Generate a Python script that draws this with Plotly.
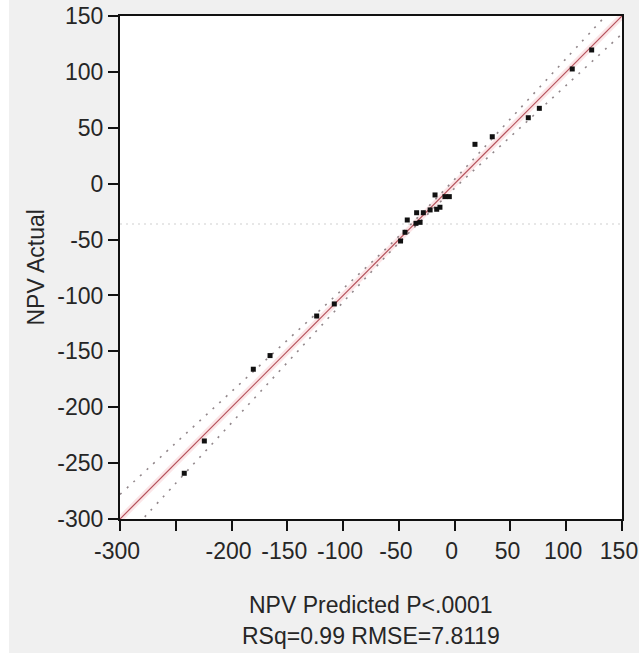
import plotly.graph_objects as go

# Data
npv_predicted = [122.8, 105.4, 75.9, 66.0, 33.7, 18.2, -17.6, -8.7, -4.8, -13.2, -16.1,
                 -22.0, -34.1, -28.1, -42.5, -34.7, -31.0, -44.5, -48.5, -107.9,
                 -123.7, -165.5, -180.5, -224.4, -242.4]
npv_actual = [119.6, 102.6, 67.4, 59.0, 42.0, 35.2, -10.1, -11.6, -11.6, -21.1, -22.9,
              -23.5, -26.0, -26.0, -32.5, -35.5, -34.6, -43.5, -51.3, -107.6,
              -118.4, -153.8, -166.0, -230.2, -259.1]

fit_x = [-300, 150]
fit_y = [-300, 150]

curve_x = [-300, -250, -200, -150, -100, -50, 0, 50, 100, 150]
curve_upper = [-278, -232, -186, -140, -94, -47, 4, 58, 112, 166]
curve_lower = [-322, -268, -214, -160, -106, -53, -4, 42, 88, 134]

mean_x = [-300, 150]
mean_y = [-36, -36]

x_tick_vals = [-300, -250, -200, -150, -100, -50, 0, 50, 100, 150]
x_tick_text = ["-300", "", "-200", "-150", "-100", "-50", "0", "50", "100", "150"]
y_tick_vals = [-300, -250, -200, -150, -100, -50, 0, 50, 100, 150]
y_tick_text = ["-300", "-250", "-200", "-150", "-100", "-50", "0", "50", "100", "150"]

x_title = "NPV Predicted P<.0001"
x_subtitle = "RSq=0.99 RMSE=7.8119"
y_title = "NPV Actual"

FONT = "Liberation Sans, Arial, sans-serif"
TXT = "#262626"
FS = 23

fig = go.Figure()

# mean line (faint dotted)
fig.add_trace(go.Scatter(x=mean_x, y=mean_y, mode="lines",
                         line=dict(color="rgba(225,225,225,0.8)", width=2, dash="2px,4px"),
                         hoverinfo="skip", showlegend=False))
# pink glow around fit line
fig.add_trace(go.Scatter(x=fit_x, y=fit_y, mode="lines",
                         line=dict(color="rgba(240,150,160,0.25)", width=6),
                         hoverinfo="skip", showlegend=False))
# confidence curves
for cy in (curve_upper, curve_lower):
    fig.add_trace(go.Scatter(x=curve_x, y=cy, mode="lines",
                             line=dict(color="rgba(110,95,100,0.75)", width=1.6,
                                       dash="2px,7px", shape="spline"),
                             hoverinfo="skip", showlegend=False))
# fit line
fig.add_trace(go.Scatter(x=fit_x, y=fit_y, mode="lines",
                         line=dict(color="#b5505a", width=1.2),
                         hoverinfo="skip", showlegend=False))
# points
fig.add_trace(go.Scatter(x=npv_predicted, y=npv_actual, mode="markers",
                         marker=dict(symbol="square", size=5, color="#111111"),
                         showlegend=False))

axis_common = dict(
    showgrid=False, zeroline=False, showline=True, linecolor="#111111", linewidth=2,
    mirror=True, ticks="outside", ticklen=10, tickwidth=2, tickcolor="#111111",
    tickfont=dict(family=FONT, size=FS, color=TXT), ticklabeloverflow="allow",
    automargin=False,
)

fig.update_xaxes(range=[-300, 150], tickmode="array", tickvals=x_tick_vals,
                 ticktext=x_tick_text, ticklabelshift=-3, **axis_common)
fig.update_yaxes(range=[-300, 150], tickmode="array", tickvals=y_tick_vals,
                 ticktext=y_tick_text, **axis_common)

fig.update_layout(
    width=639, height=653,
    margin=dict(l=120, r=17, t=16, b=134),
    paper_bgcolor="#f0f0f0", plot_bgcolor="#ffffff",
    font=dict(family=FONT, color=TXT),
    annotations=[
        dict(text=y_title, xref="paper", yref="paper", x=(35 - 120) / 502, y=0.5,
             textangle=-90, showarrow=False, xanchor="center", yanchor="middle",
             font=dict(family=FONT, size=FS, color=TXT)),
        dict(text=x_title, xref="paper", yref="paper", x=0.5, y=(519 - 605) / 503,
             showarrow=False, xanchor="center", yanchor="middle",
             font=dict(family=FONT, size=FS, color=TXT)),
        dict(text=x_subtitle, xref="paper", yref="paper", x=0.5, y=(519 - 636) / 503,
             showarrow=False, xanchor="center", yanchor="middle",
             font=dict(family=FONT, size=FS, color=TXT)),
    ],
    shapes=[
        dict(type="rect", xref="paper", yref="paper", x0=(0 - 120) / 502, x1=(9 - 120) / 502,
             y0=-134 / 503, y1=(519 - 0) / 503, fillcolor="#ffffff", line=dict(width=0),
             layer="below"),
    ],
)

fig.write_html("out.html")
